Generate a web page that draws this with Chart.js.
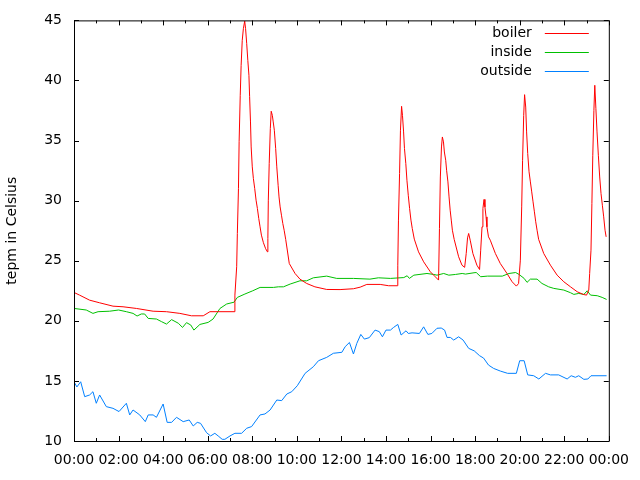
<!DOCTYPE html>
<html>
<head>
<meta charset="utf-8">
<script src="https://cdn.jsdelivr.net/npm/chart.js@4/dist/chart.umd.min.js"></script>
<style>
    html, body { margin: 0; padding: 0; background: #fff; }
    canvas { display: block; }
</style>
</head>
<body>
<canvas id="tempChart" width="640" height="480"></canvas>
<script>
// hours since midnight
const boilerHours = [0, 0.25, 0.7, 1.15, 1.75, 2.2, 2.8, 3.55, 4.15, 4.75, 5.27, 5.8, 6.1, 6.55, 7.18,
    7.22, 7.3, 7.33, 7.38, 7.41, 7.46, 7.5, 7.55, 7.6, 7.66, 7.7, 7.75, 7.8, 7.85, 7.88, 7.92, 7.95,
    8.0, 8.05, 8.11, 8.17, 8.23, 8.29, 8.35, 8.41, 8.5, 8.6, 8.68, 8.7, 8.72, 8.76, 8.81, 8.85, 8.9,
    8.94, 8.99, 9.05, 9.1, 9.16, 9.2, 9.25, 9.31, 9.37, 9.43, 9.5, 9.66, 9.92, 10.14, 10.44, 10.81,
    11.34, 11.94, 12.54, 12.84, 13.14, 13.74, 14.12, 14.52, 14.53, 14.56, 14.61, 14.65, 14.7, 14.74,
    14.79, 14.83, 14.89, 14.94, 15.0, 15.06, 15.12, 15.18, 15.27, 15.46, 15.69, 15.99, 16.21, 16.36,
    16.4, 16.44, 16.49, 16.53, 16.58, 16.62, 16.68, 16.72, 16.78, 16.83, 16.88, 16.93, 16.98, 17.06,
    17.26, 17.41, 17.53, 17.6, 17.66, 17.71, 17.78, 17.9, 18.08, 18.2, 18.25, 18.31, 18.35, 18.4,
    18.44, 18.49, 18.53, 18.6, 18.68, 18.91, 19.13, 19.43, 19.66, 19.85, 19.95, 20.03, 20.09, 20.13,
    20.18, 20.22, 20.27, 20.31, 20.36, 20.42, 20.48, 20.54, 20.6, 20.66, 20.72, 20.78, 20.85, 21.08,
    21.38, 21.68, 21.98, 22.28, 22.58, 22.85, 23.0, 23.1, 23.14, 23.2, 23.24, 23.28, 23.33, 23.37,
    23.42, 23.47, 23.53, 23.59, 23.65, 23.71, 23.77, 23.83, 23.88];
const boilerTemps = [22.36, 22.14, 21.72, 21.5, 21.22, 21.17, 21.03, 20.8, 20.76, 20.62, 20.42, 20.42, 20.76, 20.76, 20.76,
    22.14, 24.5, 27.27, 31.0, 34.94, 38.77, 41.26, 43.34, 44.31, 44.94, 44.31, 43.06, 41.67, 40.43, 38.68, 36.55, 34.47,
    32.81, 31.84, 31.0, 30.04, 29.35, 28.52, 27.82, 27.13, 26.5, 26.0, 25.74, 26.85, 30.04, 33.08, 36.0, 37.44, 37.1,
    36.55, 35.86, 34.33, 32.81, 31.28, 30.31, 29.48, 28.79, 28.1, 27.54, 26.78, 24.77, 23.94, 23.47, 23.11, 22.83,
    22.61, 22.6, 22.67, 22.8, 23.03, 23.03, 22.92, 22.92, 24.63, 28.38, 32.26, 35.86, 37.85, 37.1,
    35.72, 34.33, 33.08, 31.7, 30.45, 29.35, 28.38, 27.68, 26.8, 25.74, 24.91, 24.08, 23.67, 23.39,
    27.68, 31.97, 34.47, 35.3, 34.89, 34.05, 33.36, 32.53, 31.56, 30.31, 29.21, 28.38, 27.54, 26.78,
    25.33, 24.63, 24.45, 25.6, 26.9, 27.27, 26.71, 25.6, 24.63, 24.27, 25.88, 27.82, 29.35, 30.1,
    29.48, 28.65, 27.82, 26.99, 26.71, 25.6, 24.77, 23.94, 23.25, 22.89, 23.1, 25.05, 29.48, 33.36,
    37.1, 38.82, 37.79, 35.72, 33.92, 32.4, 31.56, 30.73, 29.9, 29.07, 28.24, 27.54, 26.78, 25.6,
    24.63, 23.8, 23.25, 22.83, 22.42, 22.2, 22.14, 22.56, 23.94, 25.88, 29.76, 33.78, 37.52, 39.6,
    37.65, 35.72, 33.78, 31.97, 30.59, 29.62, 28.65, 27.54, 26.99];

const insideHours = [0, 0.55, 0.85, 1.08, 1.6, 2.0, 2.35, 2.65, 2.83, 3.02, 3.17, 3.33, 3.7, 3.93, 4.15,
    4.38, 4.68, 4.87, 5.05, 5.24, 5.38, 5.65, 6.02, 6.24, 6.55, 6.85, 7.18, 7.33, 7.67, 8.02, 8.35,
    8.95, 9.17, 9.4, 9.7, 10.14, 10.44, 10.74, 11.34, 11.79, 12.54, 13.28, 13.66, 14.2, 14.8, 14.95,
    15.05, 15.25, 15.84, 16.14, 16.29, 16.59, 16.82, 17.12, 17.42, 17.57, 17.95, 18.05, 18.25, 18.55,
    19.22, 19.52, 19.82, 19.97, 20.2, 20.33, 20.48, 20.78, 21.0, 21.3, 21.53, 21.98, 22.28, 22.43,
    22.65, 22.88, 23.03, 23.18, 23.48, 23.7, 23.9];
const insideTemps = [21.03, 20.9, 20.62, 20.76, 20.8, 20.9, 20.76, 20.62, 20.4, 20.57, 20.57, 20.2, 20.15, 19.93, 19.73,
    20.1, 19.8, 19.45, 19.85, 19.65, 19.23, 19.7, 19.87, 20.15, 21.03, 21.4, 21.55, 21.95, 22.23, 22.5, 22.78,
    22.78, 22.83, 22.83, 23.06, 23.33, 23.33, 23.58, 23.72, 23.53, 23.53, 23.47, 23.58, 23.53, 23.6, 23.75,
    23.53, 23.8, 23.94, 23.86, 23.8, 23.94, 23.8, 23.86, 23.94, 23.89, 24.0, 24.02, 23.67, 23.72,
    23.72, 23.94, 24.02, 23.86, 23.53, 23.2, 23.47, 23.47, 23.11, 22.83, 22.7, 22.56, 22.34, 22.2,
    22.28, 22.2, 22.5, 22.14, 22.09, 21.95, 21.78];

const outsideHours = [0, 0.13, 0.3, 0.48, 0.7, 0.85, 1.0, 1.15, 1.45, 1.75, 2.02, 2.35, 2.5, 2.65, 2.95,
    3.2, 3.33, 3.55, 3.7, 4.0, 4.18, 4.38, 4.6, 4.9, 5.17, 5.35, 5.53, 5.68, 5.95, 6.13, 6.32, 6.47,
    6.65, 6.77, 7.0, 7.22, 7.52, 7.75, 7.97, 8.35, 8.57, 8.8, 9.1, 9.32, 9.55, 9.77, 10.02, 10.37,
    10.74, 10.97, 11.34, 11.64, 12.02, 12.17, 12.36, 12.54, 12.69, 12.87, 13.03, 13.25, 13.51, 13.7,
    13.84, 14.0, 14.2, 14.34, 14.53, 14.68, 14.9, 15.0, 15.17, 15.5, 15.69, 15.88, 16.06, 16.29,
    16.48, 16.63, 16.74, 16.89, 17.04, 17.26, 17.46, 17.71, 17.96, 18.2, 18.38, 18.6, 18.83, 19.13,
    19.46, 19.85, 20.0, 20.2, 20.36, 20.63, 20.86, 21.16, 21.38, 21.75, 22.13, 22.31, 22.5, 22.65,
    22.88, 23.06, 23.2, 23.9];
const outsideTemps = [14.93, 14.5, 14.93, 13.69, 13.83, 14.1, 13.14, 13.83, 12.86, 12.72, 12.45, 13.14, 12.17, 12.58, 12.17,
    11.61, 12.17, 12.17, 11.97, 13.08, 11.55, 11.55, 11.97, 11.61, 11.75, 11.25, 11.55, 11.47, 10.69, 10.42, 10.64, 10.42,
    10.14, 10.14, 10.42, 10.64, 10.64, 11.06, 11.2, 12.17, 12.25, 12.58, 13.41, 13.36, 13.91, 14.1, 14.6, 15.63,
    16.18, 16.68, 16.96, 17.3, 17.38, 17.85, 18.2, 17.24, 18.12, 18.87, 18.48, 18.6, 19.23, 19.1,
    18.67, 19.23, 19.23, 19.45, 19.7, 18.82, 19.17, 18.95, 19.0, 18.95, 19.5, 18.87, 18.95, 19.38,
    19.4, 19.23, 18.62, 18.62, 18.4, 18.67, 18.4, 17.71, 17.5, 17.1, 16.9, 16.32, 16.04, 15.82,
    15.63, 15.63, 16.68, 16.68, 15.5, 15.43, 15.16, 15.63, 15.5, 15.5, 15.16, 15.43, 15.3, 15.43,
    15.13, 15.16, 15.43, 15.43];

const seriesNames = ['boiler', 'inside', 'outside'];
const seriesColors = ['#ff0000', '#00c000', '#0080ff'];
const xTickHours = [0, 2, 4, 6, 8, 10, 12, 14, 16, 18, 20, 22, 24];
const yTicks = [10, 15, 20, 25, 30, 35, 40, 45];

const FONT = { family: 'DejaVu Sans', size: 14 };
const INK = '#000';

const toPoints = (hours, temps) => hours.map((h, i) => ({ x: h, y: temps[i] }));

const hourLabel = (h) => `${String(h % 24).padStart(2, '0')}:00`;

// gnuplot-like frame, inward ticks and key drawn inside the plot
const gnuplotFrame = {
    id: 'gnuplotFrame',
    afterDatasetsDraw(chart) {
        const { ctx, chartArea: area, scales } = chart;
        ctx.save();
        ctx.strokeStyle = INK;
        ctx.lineWidth = 1;
        ctx.beginPath();
        ctx.rect(area.left + 0.5, area.top + 0.5, area.right - area.left, area.bottom - area.top);

        yTicks.forEach((v) => {
            const py = Math.round(scales.y.getPixelForValue(v)) + 0.5;
            ctx.moveTo(area.left, py); ctx.lineTo(area.left + 5, py);
            ctx.moveTo(area.right, py); ctx.lineTo(area.right - 5, py);
        });

        for (let h = 0; h <= 24; h++) {
            const px = Math.round(scales.x.getPixelForValue(h)) + 0.5;
            const len = h % 2 === 0 ? 5 : 3;
            ctx.moveTo(px, area.bottom); ctx.lineTo(px, area.bottom - len);
            ctx.moveTo(px, area.top); ctx.lineTo(px, area.top + len);
        }
        ctx.stroke();

        ctx.font = `${FONT.size}px ${FONT.family}`;
        ctx.textAlign = 'right';
        ctx.textBaseline = 'middle';
        chart.data.datasets.forEach((ds, i) => {
            const y = area.top + 13 + i * 19;
            ctx.fillStyle = INK;
            ctx.fillText(ds.label, area.right - 77, y);
            ctx.strokeStyle = ds.borderColor;
            ctx.beginPath();
            ctx.moveTo(area.right - 64, Math.round(y) + 0.5);
            ctx.lineTo(area.right - 20, Math.round(y) + 0.5);
            ctx.stroke();
        });
        ctx.restore();
    },
};

const seriesData = [
    toPoints(boilerHours, boilerTemps),
    toPoints(insideHours, insideTemps),
    toPoints(outsideHours, outsideTemps),
];

new Chart(document.getElementById('tempChart').getContext('2d'), {
    type: 'line',
    data: {
        datasets: seriesData.map((data, i) => ({
            label: seriesNames[i],
            data,
            borderColor: seriesColors[i],
            borderWidth: 1,
            pointRadius: 0,
            tension: 0,
            fill: false,
        })),
    },
    options: {
        responsive: false,
        animation: false,
        layout: { padding: { top: 20, right: 31, left: 0, bottom: 0 } },
        plugins: {
            legend: { display: false },
            tooltip: { enabled: false },
        },
        scales: {
            x: {
                type: 'linear',
                min: 0,
                max: 24,
                grid: { display: false, drawTicks: false },
                border: { display: false },
                afterBuildTicks: (scale) => { scale.ticks = xTickHours.map((value) => ({ value })); },
                ticks: {
                    padding: 11,
                    color: INK,
                    font: FONT,
                    maxRotation: 0,
                    autoSkip: false,
                    callback: (value) => hourLabel(value),
                },
                afterFit: (scale) => { scale.height = 39; },
            },
            y: {
                min: 10,
                max: 45,
                grid: { display: false, drawTicks: false },
                border: { display: false },
                afterBuildTicks: (scale) => { scale.ticks = yTicks.map((value) => ({ value })); },
                ticks: { padding: 12, color: INK, font: FONT },
                title: { display: true, text: 'tepm in Celsius', color: INK, font: FONT, padding: 4 },
                afterFit: (scale) => { scale.width = 74; },
            },
        },
    },
    plugins: [gnuplotFrame],
});
</script>
</body>
</html>
